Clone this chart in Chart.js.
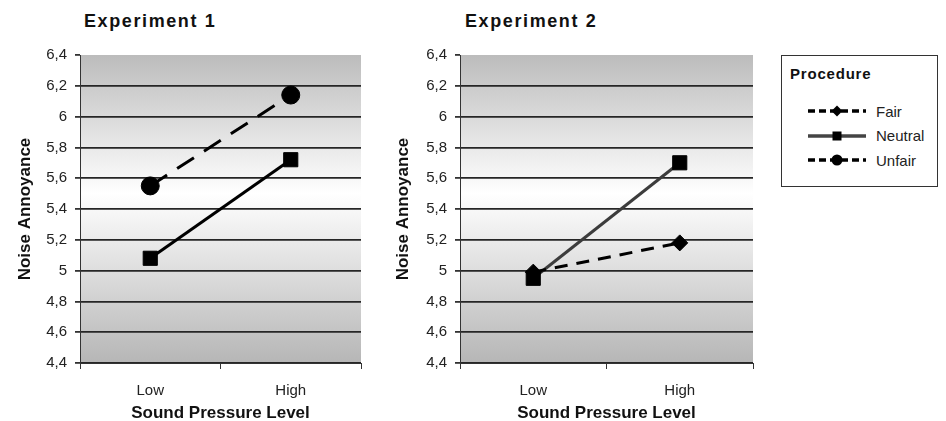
<!DOCTYPE html>
<html>
<head>
<meta charset="utf-8">
<script src="https://cdn.jsdelivr.net/npm/chart.js@4.4.1/dist/chart.umd.min.js"></script>
<style>
  body { margin: 0; width: 946px; height: 421px; overflow: hidden; background: #fff; position: relative;
         font-family: "Liberation Sans", Arial, sans-serif; color: #111; }
  .panel { position: absolute; top: 0; height: 426px; }
  #p1 { left: 0; width: 372px; }
  #p2 { left: 370px; width: 394px; }
  .title { position: absolute; top: 12px; font-weight: bold; font-size: 18px; line-height: 18px; letter-spacing: 1.6px; }
  #legend { position: absolute; left: 781px; top: 55px; width: 157px; height: 132px; border: 1px solid #333; box-sizing: border-box; }
  #legend .head { position: absolute; left: 8px; top: 9px; font-weight: bold; font-size: 15px; letter-spacing: 0.8px; }
  #legend .row { position: absolute; left: 26px; height: 14px; display: flex; align-items: center; font-size: 15px; color: #222; }
  #legend svg { margin-right: 8px; }
</style>
</head>
<body>
<div class="title" style="left:84px">Experiment 1</div>
<div class="title" style="left:465px">Experiment 2</div>
<div class="panel" id="p1"><canvas id="chart1"></canvas></div>
<div class="panel" id="p2"><canvas id="chart2"></canvas></div>
<div id="legend"><div class="head">Procedure</div></div>

<script>
const levels = ["Low", "High"];
const yMin = 4.4;
const yMax = 6.4;
const yStep = 0.2;

// mean noise annoyance per procedure
const exp1Neutral = [5.08, 5.72];
const exp1Unfair = [5.55, 6.14];
const exp2Fair = [4.99, 5.18];
const exp2Neutral = [4.95, 5.70];

const procedures = ["Fair", "Neutral", "Unfair"];

const FONT = "'Liberation Sans', Arial, sans-serif";

// grey-white-grey band behind the plot
const plotBackground = {
  id: "plotBackground",
  beforeDraw(chart) {
    const { ctx, chartArea: a } = chart;
    const g = ctx.createLinearGradient(0, a.top, 0, a.bottom);
    g.addColorStop(0, "#bcbcbc");
    g.addColorStop(0.45, "#ffffff");
    g.addColorStop(1, "#b6b6b6");
    ctx.save();
    ctx.fillStyle = g;
    ctx.fillRect(a.left, a.top, a.width, a.height);
    ctx.restore();
  }
};

function fairSet(data) {
  return { label: "Fair", data, borderColor: "#000", backgroundColor: "#000", borderWidth: 3,
           borderDash: [13, 9], pointStyle: "rectRot", pointRadius: 8, pointBorderWidth: 1 };
}
function neutralSet(data, color) {
  return { label: "Neutral", data, borderColor: color, backgroundColor: "#000", borderWidth: 3,
           pointStyle: "rect", pointRadius: 10, pointBorderColor: "#000", pointBorderWidth: 1 };
}
function unfairSet(data) {
  return { label: "Unfair", data, borderColor: "#000", backgroundColor: "#000", borderWidth: 3,
           borderDash: [20, 12], pointStyle: "circle", pointRadius: 9, pointBorderWidth: 1 };
}

function makePanel(id, datasets, axisWidth, yTitlePad) {
  return new Chart(document.getElementById(id), {
    type: "line",
    data: { labels: levels, datasets },
    plugins: [plotBackground],
    options: {
      responsive: true,
      maintainAspectRatio: false,
      animation: false,
      layout: { padding: { top: 55, right: 0 } },
      plugins: { legend: { display: false }, tooltip: { enabled: false } },
      elements: { line: { tension: 0 } },
      scales: {
        x: {
          offset: true,
          afterFit: s => { s.height = 63; },
          grid: { offset: true, drawOnChartArea: false, tickLength: 6, color: "#333" },
          border: { color: "#333", width: 1 },
          ticks: { padding: 13, color: "#222", font: { family: FONT, size: 15 } },
          title: { display: true, text: "Sound Pressure Level", color: "#111",
                   padding: { bottom: 2 }, font: { family: FONT, size: 17, weight: "bold" } }
        },
        y: {
          min: yMin,
          max: yMax,
          afterFit: s => { s.width = axisWidth; },
          ticks: {
            stepSize: yStep, padding: 8, color: "#222", font: { family: FONT, size: 15 },
            callback: v => String(Math.round(v * 10) / 10).replace(".", ",")
          },
          grid: {
            tickLength: 5,
            lineWidth: 1.8,
            tickColor: "#333",
            color: c => Math.abs(c.tick.value - yMax) < 1e-6 ? "rgba(0,0,0,0)" : "#262626"
          },
          border: { color: "#333", width: 1 },
          title: { display: true, text: "Noise Annoyance", color: "#111",
                   padding: { top: yTitlePad }, font: { family: FONT, size: 17, weight: "bold" } }
        }
      }
    }
  });
}

makePanel("chart1", [neutralSet(exp1Neutral, "#000"), unfairSet(exp1Unfair)], 80, 15);
makePanel("chart2", [fairSet(exp2Fair), neutralSet(exp2Neutral, "#3c3c3c")], 90, 23);

// legend samples
const samples = {
  Fair: '<line x1="0" y1="7" x2="58" y2="7" stroke="#000" stroke-width="3.5" stroke-dasharray="7 4"/>' +
        '<polygon points="29,1.5 34.5,7 29,12.5 23.5,7" fill="#000"/>',
  Neutral: '<line x1="0" y1="7" x2="58" y2="7" stroke="#444" stroke-width="3.5"/>' +
           '<rect x="24.5" y="2.5" width="9" height="9" fill="#000"/>',
  Unfair: '<line x1="0" y1="7" x2="58" y2="7" stroke="#000" stroke-width="3.5" stroke-dasharray="7 4"/>' +
          '<circle cx="29" cy="7" r="5.5" fill="#000"/>'
};
const legend = document.getElementById("legend");
procedures.forEach((p, i) => {
  const row = document.createElement("div");
  row.className = "row";
  row.style.top = (48 + i * 24.5) + "px";
  row.innerHTML = '<svg width="60" height="14">' + samples[p] + '</svg><span>' + p + '</span>';
  legend.appendChild(row);
});
</script>
</body>
</html>
